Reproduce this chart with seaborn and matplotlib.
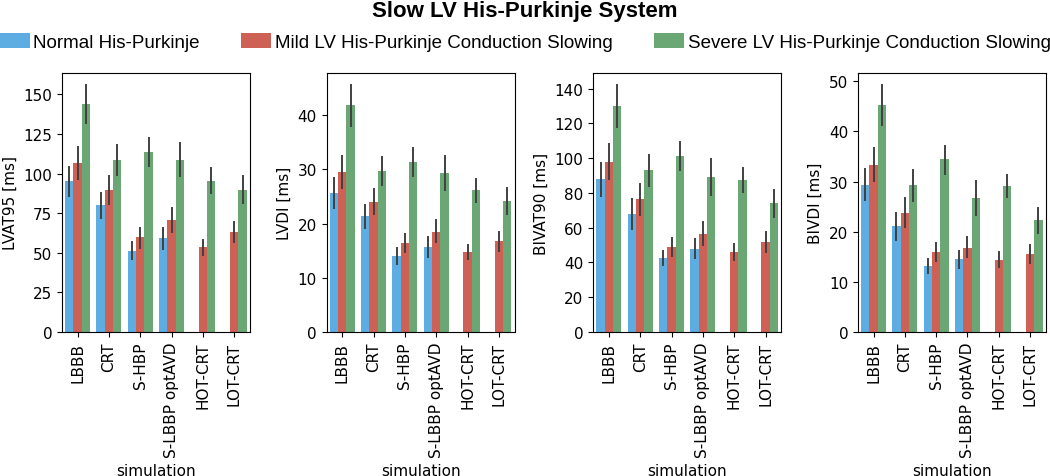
import numpy as np
import pandas as pd
import seaborn as sns
import matplotlib.pyplot as plt

simulations = ["LBBB", "CRT", "S-HBP", "S-LBBP optAVD", "HOT-CRT", "LOT-CRT"]
groups = ["Normal His-Purkinje",
          "Mild LV His-Purkinje Conduction Slowing",
          "Severe LV His-Purkinje Conduction Slowing"]
metrics = ["LVAT95 [ms]", "LVDI [ms]", "BIVAT90 [ms]", "BIVDI [ms]"]

# mean / lower / upper of error bar, per group, per simulation (nan = not simulated)
lvat95_mean = [[95, 80, 51.3, 59, np.nan, np.nan],
               [106.7, 89.5, 59.7, 70.4, 53.4, 63],
               [143.9, 108.8, 113.4, 108.8, 95.4, 89.9]]
lvat95_lo = [[85.7, 71.8, 46.2, 52.5, np.nan, np.nan],
             [96.8, 80.9, 53.2, 63, 48.7, 56.7],
             [131.9, 99.2, 104.6, 98.3, 87.4, 81.1]]
lvat95_hi = [[104.2, 87.8, 56.7, 65.8, np.nan, np.nan],
             [116.8, 98.3, 65.8, 78.2, 58.2, 69.1],
             [155.7, 118.3, 122.5, 119.3, 103.4, 98.7]]

lvdi_mean = [[25.6, 21.3, 14.0, 15.7, np.nan, np.nan],
             [29.5, 24.0, 16.4, 18.5, 14.7, 16.7],
             [41.8, 29.7, 31.3, 29.3, 26.1, 24.1]]
lvdi_lo = [[22.8, 19.2, 12.6, 13.8, np.nan, np.nan],
           [26.6, 21.8, 14.8, 16.5, 13.4, 15.0],
           [38.0, 27.1, 28.7, 26.2, 24.0, 21.7]]
lvdi_hi = [[28.4, 23.4, 15.5, 17.5, np.nan, np.nan],
           [32.5, 26.4, 18.1, 20.7, 16.0, 18.4],
           [45.5, 32.3, 33.9, 32.5, 28.3, 26.6]]

bivat90_mean = [[88, 68, 42.5, 48, np.nan, np.nan],
                [98, 76.5, 49, 56.5, 46, 52],
                [130, 93, 101.5, 89, 87.5, 74]]
bivat90_lo = [[78, 59.5, 38.5, 42.5, np.nan, np.nan],
              [88, 67.5, 44, 50, 41.5, 46],
              [118, 84, 93.5, 79, 80.5, 66]]
bivat90_hi = [[97, 76.5, 46.5, 53.5, np.nan, np.nan],
              [108, 85, 54, 63.5, 50.5, 57.5],
              [142, 102, 109.5, 99.5, 94.5, 81.5]]

bivdi_mean = [[29.4, 21.1, 13.2, 14.5, np.nan, np.nan],
              [33.3, 23.8, 16.0, 16.8, 14.4, 15.6],
              [45.3, 29.3, 34.4, 26.7, 29.2, 22.3]]
bivdi_lo = [[26.3, 18.4, 11.8, 12.8, np.nan, np.nan],
            [30.1, 20.9, 14.2, 14.9, 13.0, 13.7],
            [41.3, 26.2, 31.6, 23.3, 27.0, 19.8]]
bivdi_hi = [[32.5, 23.8, 14.6, 16.2, np.nan, np.nan],
            [36.7, 26.7, 17.7, 19.0, 15.9, 17.4],
            [49.2, 32.3, 37.1, 30.2, 31.3, 24.8]]

all_data = [(lvat95_mean, lvat95_lo, lvat95_hi),
            (lvdi_mean, lvdi_lo, lvdi_hi),
            (bivat90_mean, bivat90_lo, bivat90_hi),
            (bivdi_mean, bivdi_lo, bivdi_hi)]

colors = ["#5DADE2", "#CD6155", "#6AA774"]


def to_long(mean, lo, hi):
    # three rows per bar: median = mean, min/max = error bar ends
    rows = []
    for g, grp in enumerate(groups):
        for s, sim in enumerate(simulations):
            if np.isnan(mean[g][s]):
                continue
            for v in (lo[g][s], mean[g][s], hi[g][s]):
                rows.append({"simulation": sim, "group": grp, "value": v})
    return pd.DataFrame(rows)


plt.rcParams["font.family"] = ["DejaVu Sans"]

fig = plt.figure(figsize=(10.5, 4.77), dpi=100)
lefts = [0.059, 0.311, 0.565, 0.817]
axes = [fig.add_axes([l, 0.302, 0.179, 0.543]) for l in lefts]

for ax, (m, lo, hi), label in zip(axes, all_data, metrics):
    df = to_long(m, lo, hi)
    sns.barplot(data=df, x="simulation", y="value", hue="group",
                order=simulations, hue_order=groups, palette=colors,
                estimator="median", errorbar=("pi", 100), saturation=1,
                linewidth=0, err_kws={"color": ".25", "linewidth": 1.4}, ax=ax)
    ax.set_ylabel(label, fontsize=11)
    ax.set_xlabel("simulation", fontsize=11)
    ax.tick_params(axis="both", labelsize=11)
    ax.tick_params(axis="x", rotation=90)
    ax.get_legend().remove()

handles, labels = axes[0].get_legend_handles_labels()
fig.legend(handles, labels, loc="center", bbox_to_anchor=(0.5, 1 - 43 / 477),
           ncol=3, frameon=False, prop={"family": "Liberation Sans", "size": 13.5},
           handlelength=1.6, handleheight=0.9, handletextpad=0.2,
           columnspacing=2.2, borderaxespad=0, borderpad=0)
fig.suptitle("Slow LV His-Purkinje System", y=1 - 12 / 477, va="center",
             fontsize=16, fontweight="bold", family="Liberation Sans")

fig.savefig("out.png", dpi=100)
